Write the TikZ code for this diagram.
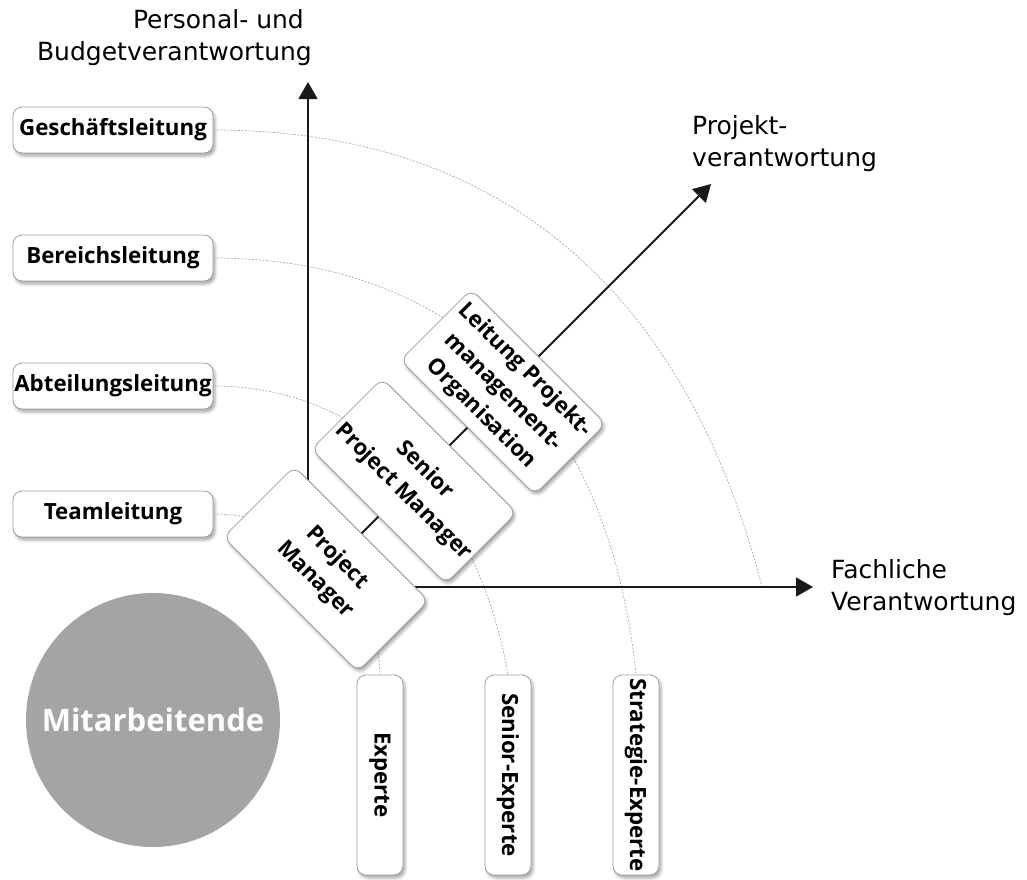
\documentclass[tikz,border=0pt]{standalone}
\usepackage{fontspec}
\setmainfont{DejaVu Sans}
\newfontfamily\boxfont{Open Sans}
\usetikzlibrary{arrows.meta,shadows.blur}
\definecolor{circlegray}{HTML}{A4A4A4}
\definecolor{guidegray}{HTML}{AAAAAA}
\begin{document}
\begin{tikzpicture}[x=1pt,y=1pt,
  box/.style={draw=black!38, line width=0.8pt, fill=white, rounded corners=9pt,
    font=\boxfont\fontsize{22.3}{28}\selectfont\bfseries, align=center, inner sep=0pt,
    blur shadow={shadow xshift=2pt, shadow yshift=-3pt, shadow blur radius=3pt, shadow opacity=35}},
  levelbox/.style={box, minimum width=200pt, minimum height=46pt},
  rolebox/.style={box, minimum width=190pt, minimum height=100pt, rotate=-45,
    font=\boxfont\fontsize{22.3}{31}\selectfont\bfseries},
  expbox/.style={box, minimum width=200pt, minimum height=46pt, rotate=-90},
  axis/.style={line width=1.8pt, black!90, -{Triangle[length=17pt,width=19pt]}},
  guide/.style={guidegray, line width=0.7pt, dash pattern=on 2pt off 1.5pt},
  axislabel/.style={font=\fontsize{25}{32}\selectfont, inner sep=0pt},
]
\path[use as bounding box] (0,0) rectangle (1027,-879);

% origin of the three axes and the arrow tips
\coordinate (O) at (308,-587);
\coordinate (ytip) at (308,-82);
\coordinate (xtip) at (813,-587);
\coordinate (dtip) at (711,-184);
\coordinate (gEnd) at (762,-587);

% hierarchy levels on the left
\node[levelbox] (gl) at (113,-130) {Geschäftsleitung};
\node[levelbox] (bl) at (113,-258) {Bereichsleitung};
\node[levelbox] (al) at (113,-386) {Abteilungsleitung};
\node[levelbox] (tl) at (113,-514) {Teamleitung};

% expert career boxes at the bottom
\node[expbox] (ex)  at (380,-775) {Experte};
\node[expbox] (sex) at (508,-775) {Senior-Experte};
\node[expbox] (stx) at (636,-775) {Strategie-Experte};

% dashed level arcs
\draw[guide] (gl.east) .. controls +(320,0) and +(-67,260) .. (gEnd);
\draw[guide] (bl.east) .. controls +(230,0) and +(-29,279) .. (stx.west);
\draw[guide] (al.east) .. controls +(150,0) and +(-31,177) .. (sex.west);
\draw[guide] (tl.east) .. controls +(90,0) and +(-2,90) .. (ex.west);

% axes
\draw[axis] (O) -- (ytip);
\draw[axis] (O) -- (xtip);
\draw[axis] (O) -- (dtip);

% project management career along the diagonal
\node[rolebox] (pm)  at (326,-569) {Project\\Manager};
\node[rolebox] (spm) at (414,-481) {Senior\\Project Manager};
\node[rolebox] (lpo) at (503,-392) {Leitung Projekt-\\management-\\Organisation};

% employees
\node[circle, fill=circlegray, minimum size=254pt, inner sep=0pt, text=white,
  font=\boxfont\fontsize{31}{36}\selectfont\bfseries] (ma) at (153,-720) {Mitarbeitende};

% axis labels
\node[axislabel, anchor=east, align=right] (ylab) at (312,-38) {Personal- und\hspace*{8pt}\\Budgetverantwortung};
\node[axislabel, anchor=west, align=left] (dlab) at (692,-144) {Projekt-\\verantwortung};
\node[axislabel, anchor=west, align=left] (xlab) at (831,-588) {Fachliche\\Verantwortung};
\end{tikzpicture}
\end{document}
